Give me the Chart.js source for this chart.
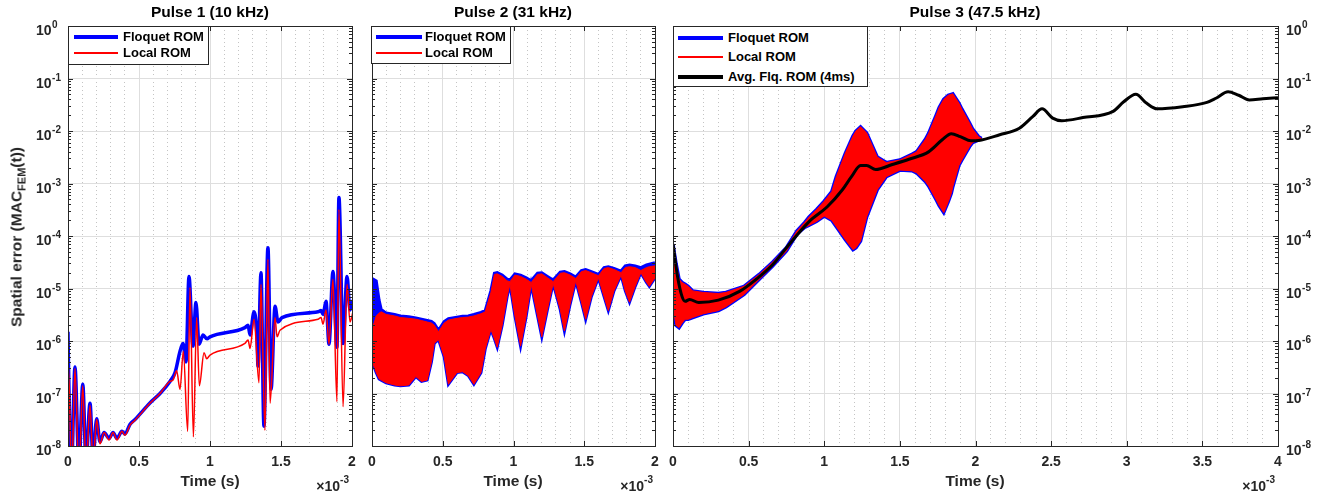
<!DOCTYPE html>
<html>
<head>
<meta charset="utf-8">
<script src="https://cdn.jsdelivr.net/npm/chart.js@4.4.1/dist/chart.umd.min.js"></script>
<style>
  body { margin: 0; background: #fff; }
  #wrap { position: relative; width: 1335px; height: 502px; overflow: hidden;
          font-family: "Liberation Sans", Arial, sans-serif; font-weight: bold; color: #262626; }
  #wrap canvas { position: absolute; left: 0; top: 0; }
  .t { position: absolute; white-space: nowrap; }
  .title { font-size: 15.5px; line-height: 18px; top: 3px; transform: translateX(-50%); color: #000; }
  .xlab { font-size: 15.5px; line-height: 18px; top: 472px; transform: translateX(-50%); }
  .mult { font-size: 14px; line-height: 16px; top: 478px; transform: translateX(-100%); }
  .mult sup { font-size: 10px; vertical-align: baseline; position: relative; top: -8px; }
  .ylab { font-size: 15.5px; line-height: 18px; left: 17px; top: 237px; transform: translate(-50%, -50%) rotate(-90deg); }
  .ylab sub { font-size: 11px; vertical-align: baseline; position: relative; top: 4px; }
  .legbox { position: absolute; background: #fff; border: 1px solid #262626; box-sizing: border-box; }
  .legline { position: absolute; }
  .legtxt { position: absolute; font-size: 13px; line-height: 15px; white-space: nowrap; color: #000; }
</style>
</head>
<body>
<div id="wrap">
  <canvas id="c1" width="1335" height="502"></canvas>
  <canvas id="c2" width="1335" height="502"></canvas>
  <canvas id="c3" width="1335" height="502"></canvas>

  <div class="t title" style="left:210px">Pulse 1 (10 kHz)</div>
  <div class="t title" style="left:513px">Pulse 2 (31 kHz)</div>
  <div class="t title" style="left:975px">Pulse 3 (47.5 kHz)</div>

  <div class="t xlab" style="left:210px">Time (s)</div>
  <div class="t xlab" style="left:513px">Time (s)</div>
  <div class="t xlab" style="left:975px">Time (s)</div>

  <div class="t mult" style="left:349px">×10<sup>-3</sup></div>
  <div class="t mult" style="left:653px">×10<sup>-3</sup></div>
  <div class="t mult" style="left:1275px">×10<sup>-3</sup></div>

  <div class="t ylab">Spatial error (MAC<sub>FEM</sub>(t))</div>
</div>

<script>
// time in ms (axis shows x 10^-3 s)
// Pulse 1
const t1F = [0, 0.003, 0.025, 0.049, 0.077, 0.104, 0.127, 0.155, 0.176, 0.202, 0.225, 0.254, 0.289, 0.317, 0.345, 0.38, 0.401, 0.437, 0.472, 0.577, 0.648, 0.718, 0.754, 0.789, 0.81, 0.831, 0.852, 0.88, 0.901, 0.923, 0.951, 0.979, 1.0, 1.246, 1.268, 1.282, 1.31, 1.331, 1.338, 1.359, 1.38, 1.408, 1.43, 1.458, 1.479, 1.507, 1.761, 1.782, 1.796, 1.817, 1.838, 1.866, 1.894, 1.908, 1.937, 1.965, 1.986, 2.007];
const floq1 = [1.5e-6, 4e-7, 4e-9, 3.2e-7, 4e-9, 1.5e-7, 5e-9, 6.5e-8, 6e-9, 3.3e-8, 1.2e-8, 1.8e-8, 1.4e-8, 1.8e-8, 1.4e-8, 1.9e-8, 1.7e-8, 2.6e-8, 3.2e-8, 6.6e-8, 1e-7, 1.7e-7, 2.5e-7, 6.4e-7, 9e-7, 4e-7, 1.7e-5, 8e-7, 5.4e-6, 8.7e-7, 1.3e-6, 1.1e-6, 1.2e-6, 1.8e-6, 2e-6, 1.3e-6, 3.6e-6, 1.2e-6, 3.3e-7, 2e-5, 2.4e-8, 6e-5, 1.2e-7, 4.6e-6, 2.3e-6, 2.8e-6, 3.6e-6, 3.8e-6, 3.2e-6, 5.7e-6, 8.7e-7, 2.1e-5, 7.6e-7, 5.4e-4, 9e-7, 1.7e-5, 3.9e-6, 6e-6];
const t1L = [0, 0.008, 0.026, 0.049, 0.077, 0.104, 0.127, 0.155, 0.176, 0.202, 0.225, 0.254, 0.289, 0.317, 0.345, 0.38, 0.401, 0.437, 0.472, 0.577, 0.648, 0.718, 0.74, 0.765, 0.789, 0.812, 0.843, 0.859, 0.883, 0.906, 0.925, 0.958, 0.977, 1.0, 1.246, 1.268, 1.282, 1.31, 1.345, 1.359, 1.387, 1.408, 1.423, 1.458, 1.472, 1.493, 1.761, 1.782, 1.796, 1.817, 1.838, 1.866, 1.894, 1.908, 1.937, 1.965, 1.986, 2.007];
const loc1 = [4e-7, 1.5e-7, 3e-9, 3e-7, 3e-9, 1.4e-7, 4e-9, 6e-8, 5e-9, 3.2e-8, 1.1e-8, 1.8e-8, 1.3e-8, 1.8e-8, 1.3e-8, 1.9e-8, 1.6e-8, 2.5e-8, 3.1e-8, 6.5e-8, 1e-7, 1.7e-7, 1.8e-7, 2.7e-7, 1.2e-7, 6.4e-7, 1.9e-8, 1.05e-5, 1.5e-8, 2.8e-6, 1.4e-7, 6e-7, 4.6e-7, 5.4e-7, 9e-7, 1.05e-6, 7.2e-7, 2.6e-6, 1.6e-7, 1.2e-5, 2e-8, 3.6e-5, 6.5e-8, 2.8e-6, 1.2e-6, 1.6e-6, 2.6e-6, 2.8e-6, 2.1e-6, 3.9e-6, 8.7e-7, 1.5e-5, 7e-8, 3.2e-4, 5.6e-8, 1.2e-5, 2.3e-6, 3.6e-6];

// Pulse 2 : envelopes of the fast oscillation
const t2 = [0, 0.01, 0.03, 0.05, 0.065, 0.1, 0.16, 0.2, 0.26, 0.31, 0.35, 0.39, 0.42, 0.44, 0.47, 0.51, 0.54, 0.6, 0.64, 0.68, 0.72, 0.77, 0.8, 0.84, 0.865, 0.885, 0.92, 0.955, 0.975, 1.01, 1.05, 1.09, 1.125, 1.17, 1.2, 1.24, 1.28, 1.33, 1.36, 1.4, 1.44, 1.48, 1.51, 1.55, 1.6, 1.64, 1.67, 1.71, 1.76, 1.79, 1.82, 1.86, 1.9, 1.94, 1.96, 2.0];
const loc2Hi = [1.3e-6, 2e-6, 3e-6, 3.4e-6, 3.6e-6, 3.2e-6, 3e-6, 2.8e-6, 2.7e-6, 2.6e-6, 2.45e-6, 2.3e-6, 2.2e-6, 2e-6, 1.5e-6, 2.2e-6, 2.5e-6, 2.7e-6, 2.8e-6, 2.85e-6, 3e-6, 3.3e-6, 3.6e-6, 8.4e-6, 1.85e-5, 1.9e-5, 1.7e-5, 1.4e-5, 1.35e-5, 1.8e-5, 1.7e-5, 1.5e-5, 1.3e-5, 1.85e-5, 1.9e-5, 1.6e-5, 1.35e-5, 1.95e-5, 2e-5, 1.8e-5, 1.55e-5, 2.1e-5, 2.2e-5, 2e-5, 1.75e-5, 2.4e-5, 2.5e-5, 2.3e-5, 2e-5, 2.5e-5, 2.6e-5, 2.5e-5, 2.2e-5, 2.5e-5, 2.6e-5, 2.7e-5];
const loc2Lo = [5e-7, 3.5e-7, 2.5e-7, 1.9e-7, 1.8e-7, 1.6e-7, 1.45e-7, 1.4e-7, 1.45e-7, 2.1e-7, 1.7e-7, 1.8e-7, 4e-7, 9e-7, 1.07e-6, 5e-7, 1.5e-7, 2.5e-7, 2.6e-7, 2.2e-7, 1.5e-7, 2.5e-7, 7e-7, 1.66e-6, 1.1e-6, 7.6e-7, 2e-6, 7e-6, 1.2e-5, 3e-6, 8e-7, 3e-6, 1.2e-5, 3e-6, 1.2e-6, 4e-6, 1.25e-5, 4e-6, 1.55e-6, 5e-6, 1.4e-5, 5.5e-6, 2.6e-6, 7e-6, 1.6e-5, 7e-6, 3.8e-6, 9e-6, 1.8e-5, 9e-6, 5.5e-6, 1.1e-5, 2e-5, 1.3e-5, 1.1e-5, 1.6e-5];
const floq2Hi = [4e-6, 1.5e-5, 1.4e-5, 6e-6, 4e-6, 3.4e-6, 3.2e-6, 3e-6, 2.9e-6, 2.75e-6, 2.6e-6, 2.45e-6, 2.35e-6, 2.15e-6, 1.6e-6, 2.35e-6, 2.65e-6, 2.85e-6, 2.95e-6, 3e-6, 3.2e-6, 3.5e-6, 3.8e-6, 9e-6, 1.95e-5, 2e-5, 1.8e-5, 1.5e-5, 1.45e-5, 1.9e-5, 1.8e-5, 1.6e-5, 1.4e-5, 1.95e-5, 2e-5, 1.7e-5, 1.45e-5, 2.05e-5, 2.1e-5, 1.9e-5, 1.65e-5, 2.2e-5, 2.3e-5, 2.1e-5, 1.85e-5, 2.5e-5, 2.6e-5, 2.4e-5, 2.15e-5, 2.7e-5, 2.8e-5, 2.7e-5, 2.5e-5, 2.8e-5, 2.9e-5, 3.1e-5];

// Pulse 3
const t3 = [0, 0.01, 0.02, 0.04, 0.06, 0.08, 0.1, 0.13, 0.2, 0.3, 0.35, 0.47, 0.57, 0.66, 0.75, 0.82, 0.87, 0.9, 0.95, 1.0, 1.05, 1.08, 1.14, 1.19, 1.21, 1.24, 1.28, 1.35, 1.41, 1.5, 1.58, 1.61, 1.67, 1.69, 1.74, 1.76, 1.79, 1.82, 1.84, 1.85, 1.89, 1.91, 1.96, 1.98, 2.02, 2.04];
const band3Hi = [7e-5, 4.5e-5, 3e-5, 1.5e-5, 1.3e-5, 1.2e-5, 1.1e-5, 9e-6, 8.4e-6, 8e-6, 8.4e-6, 1.1e-5, 1.85e-5, 3.2e-5, 6e-5, 1.25e-4, 1.8e-4, 2.3e-4, 3.2e-4, 4.6e-4, 7e-4, 1.35e-3, 3.8e-3, 8e-3, 1e-2, 1.2e-2, 9.2e-3, 3.2e-3, 2.5e-3, 2.8e-3, 3.6e-3, 4e-3, 7e-3, 9e-3, 2e-2, 2.8e-2, 4e-2, 4.8e-2, 5e-2, 5.1e-2, 3.4e-2, 2.6e-2, 1.43e-2, 1.1e-2, 7.8e-3, 7.2e-3];
const band3Lo = [1e-5, 3e-6, 2e-6, 1.8e-6, 2.2e-6, 2.6e-6, 2.6e-6, 2.8e-6, 3.3e-6, 3.8e-6, 4.5e-6, 7.7e-6, 1.5e-5, 2.7e-5, 5.2e-5, 1.1e-4, 1.45e-4, 1.6e-4, 1.9e-4, 2.4e-4, 2e-4, 1.5e-4, 8.5e-5, 5.5e-5, 6e-5, 8e-5, 2.3e-4, 7.6e-4, 1.35e-3, 1.8e-3, 1.75e-3, 1.6e-3, 1.08e-3, 9e-4, 4.9e-4, 3.8e-4, 2.8e-4, 4.5e-4, 6.5e-4, 8.7e-4, 2.2e-3, 2.8e-3, 5e-3, 6e-3, 6.8e-3, 7e-3];
const t3a = [0, 0.03, 0.06, 0.08, 0.11, 0.17, 0.3, 0.44, 0.55, 0.66, 0.74, 0.9, 1.02, 1.12, 1.18, 1.24, 1.28, 1.34, 1.45, 1.56, 1.69, 1.78, 1.84, 1.9, 1.97, 2.02, 2.16, 2.29, 2.38, 2.44, 2.51, 2.57, 2.71, 2.91, 2.98, 3.06, 3.13, 3.2, 3.37, 3.53, 3.59, 3.67, 3.74, 3.81, 3.9, 4.0];
const avg3 = [7e-5, 1.7e-5, 7e-6, 5.7e-6, 6.2e-6, 5.4e-6, 6e-6, 8.8e-6, 1.5e-5, 2.86e-5, 5.5e-5, 1.88e-4, 3.6e-4, 7.6e-4, 1.35e-3, 2.2e-3, 2.2e-3, 1.85e-3, 2.3e-3, 2.9e-3, 4e-3, 6.8e-3, 8.9e-3, 7.8e-3, 6.5e-3, 6.6e-3, 8.5e-3, 1.13e-2, 1.9e-2, 2.64e-2, 1.76e-2, 1.57e-2, 1.8e-2, 2.36e-2, 3.6e-2, 5e-2, 3.4e-2, 2.64e-2, 2.9e-2, 3.5e-2, 4.2e-2, 5.6e-2, 4.8e-2, 3.9e-2, 4.1e-2, 4.3e-2];

const decades = [-8, -7, -6, -5, -4, -3, -2, -1, 0];

const FONT = '"Liberation Sans", Arial, sans-serif';
const INK = '#262626';
const BLUE = '#0000ff';
const RED = '#ff0000';

function isMajor(v) {
    return Math.abs(v * 2 - Math.round(v * 2)) < 1e-6;
}

function pts(ts, vs) {
    return ts.map((t, i) => ({ x: t, y: vs[i] }));
}

function line(label, data, color, width, order, extra) {
    return Object.assign({
        label: label,
        data: data,
        borderColor: color,
        backgroundColor: color,
        borderWidth: width,
        order: order,
        fill: false,
        pointRadius: 0,
        tension: 0,
    }, extra || {});
}

// box, inward ticks and the 10^n labels (MATLAB look)
const frame = {
    id: 'frame',
    afterDraw(chart, args, opts) {
        const ctx = chart.ctx;
        const a = chart.chartArea;
        const xs = chart.scales.x;
        const ys = chart.scales.y;
        ctx.save();
        ctx.strokeStyle = INK;
        ctx.lineWidth = 1;
        ctx.beginPath();
        xs.ticks.forEach(t => {
            if (!isMajor(t.value)) return;
            const px = Math.round(xs.getPixelForValue(t.value)) + 0.5;
            ctx.moveTo(px, a.bottom); ctx.lineTo(px, a.bottom - 5);
            ctx.moveTo(px, a.top); ctx.lineTo(px, a.top + 5);
        });
        decades.forEach(d => {
            for (let m = 1; m < 10; m++) {
                if (d === 0 && m > 1) break;
                const py = Math.round(ys.getPixelForValue(m * Math.pow(10, d))) + 0.5;
                const len = m === 1 ? 5 : 3;
                ctx.moveTo(a.left, py); ctx.lineTo(a.left + len, py);
                ctx.moveTo(a.right, py); ctx.lineTo(a.right - len, py);
            }
        });
        ctx.stroke();
        ctx.strokeRect(Math.round(a.left) + 0.5, Math.round(a.top) + 0.5,
            Math.round(a.right - a.left), Math.round(a.bottom - a.top));

        if (opts.side) {
            ctx.fillStyle = INK;
            ctx.textBaseline = 'alphabetic';
            ctx.textAlign = 'left';
            ys.ticks.forEach(t => {
                const e = Math.round(Math.log10(t.value));
                const py = ys.getPixelForValue(t.value);
                const x0 = opts.side === 'left' ? a.left - 32 : a.right + 8;
                ctx.font = 'bold 14px ' + FONT;
                const w = ctx.measureText('10').width;
                ctx.fillText('10', x0, py + 9);
                ctx.font = 'bold 10px ' + FONT;
                ctx.fillText(String(e), x0 + w + 0.5, py + 2);
            });
        }
        ctx.restore();
    }
};

function makeChart(id, left, right, xMax, datasets, side) {
    return new Chart(document.getElementById(id), {
        type: 'line',
        data: { datasets: datasets },
        options: {
            responsive: false,
            animation: false,
            devicePixelRatio: 1,
            events: [],
            layout: {
                autoPadding: false,
                padding: { left: left, right: 1335 - right, top: 26, bottom: 0 }
            },
            plugins: {
                legend: { display: false },
                tooltip: { enabled: false },
                frame: { side: side }
            },
            scales: {
                x: {
                    type: 'linear',
                    min: 0,
                    max: xMax,
                    // keep the axis band 56px tall so the plot box ends at y=446
                    afterFit: s => { s.height = 56; s.paddingLeft = 0; s.paddingRight = 0; },
                    ticks: {
                        stepSize: 0.1,
                        autoSkip: false,
                        maxRotation: 0,
                        padding: 8,
                        color: INK,
                        font: { family: FONT, size: 14, weight: 'bold' },
                        callback: v => isMajor(v) ? String(Math.round(v * 10) / 10) : ''
                    },
                    grid: {
                        drawTicks: false,
                        lineWidth: 1,
                        color: c => isMajor(c.tick.value) ? '#dedede' : '#c4c4c4'
                    },
                    border: {
                        display: false,
                        dash: c => isMajor(c.tick.value) ? [] : [1, 3]
                    }
                },
                y: {
                    type: 'logarithmic',
                    min: 1e-8,
                    max: 1,
                    afterFit: s => { s.width = 0; s.paddingTop = 0; s.paddingBottom = 0; },
                    afterBuildTicks: s => { s.ticks = decades.map(d => ({ value: Math.pow(10, d) })); },
                    ticks: { display: false },
                    grid: { drawTicks: false, color: '#dedede', lineWidth: 1 },
                    border: { display: false }
                }
            }
        },
        plugins: [frame]
    });
}

makeChart('c1', 68, 352, 2, [
    line('Local ROM', pts(t1L, loc1), RED, 1.5, 1, { cubicInterpolationMode: 'monotone' }),
    line('Floquet ROM', pts(t1F, floq1), BLUE, 3.5, 2, { cubicInterpolationMode: 'monotone' }),
], 'left');

makeChart('c2', 372, 655, 2, [
    line('Local ROM', pts(t2, loc2Hi), RED, 1, 1, { fill: '+1' }),
    line('Local ROM', pts(t2, loc2Lo), RED, 1, 1),
    line('Floquet ROM', pts(t2, floq2Hi), BLUE, 3, 2, { fill: '+1' }),
    line('Floquet ROM', pts(t2, loc2Lo), BLUE, 3, 2),
], null);

makeChart('c3', 673, 1278, 4, [
    line('Avg. Flq. ROM (4ms)', pts(t3a, avg3), '#000000', 3, 0, { cubicInterpolationMode: 'monotone' }),
    line('Local ROM', pts(t3, band3Hi), RED, 1, 1, { fill: '+1' }),
    line('Local ROM', pts(t3, band3Lo), RED, 1, 1),
    line('Floquet ROM', pts(t3, band3Hi), BLUE, 3.5, 2, { fill: '+1' }),
    line('Floquet ROM', pts(t3, band3Lo), BLUE, 3.5, 2),
], 'right');

// legends drawn as boxes in the top left corners
function legend(x, y, w, h, lineX, lineW, textX, rows) {
    const wrap = document.getElementById('wrap');
    const box = document.createElement('div');
    box.className = 'legbox';
    box.style.cssText = `left:${x}px;top:${y}px;width:${w}px;height:${h}px`;
    wrap.appendChild(box);
    rows.forEach(r => {
        const ln = document.createElement('div');
        ln.className = 'legline';
        ln.style.cssText = `left:${lineX}px;top:${r.y - r.lw / 2}px;width:${lineW}px;height:${r.lw}px;background:${r.color}`;
        wrap.appendChild(ln);
        const tx = document.createElement('div');
        tx.className = 'legtxt';
        tx.style.cssText = `left:${textX}px;top:${r.y - 8}px`;
        tx.textContent = r.label;
        wrap.appendChild(tx);
    });
}

legend(68, 26, 141, 39, 74, 44, 123, [
    { y: 37, lw: 4, color: BLUE, label: 'Floquet ROM' },
    { y: 53, lw: 1.5, color: RED, label: 'Local ROM' },
]);
legend(371, 26, 140, 38, 376, 46, 425, [
    { y: 37, lw: 4, color: BLUE, label: 'Floquet ROM' },
    { y: 53, lw: 1.5, color: RED, label: 'Local ROM' },
]);
legend(673, 26, 195, 61, 678, 45, 728, [
    { y: 38, lw: 4, color: BLUE, label: 'Floquet ROM' },
    { y: 57, lw: 1.5, color: RED, label: 'Local ROM' },
    { y: 76.5, lw: 4, color: '#000000', label: 'Avg. Flq. ROM (4ms)' },
]);
</script>
</body>
</html>
